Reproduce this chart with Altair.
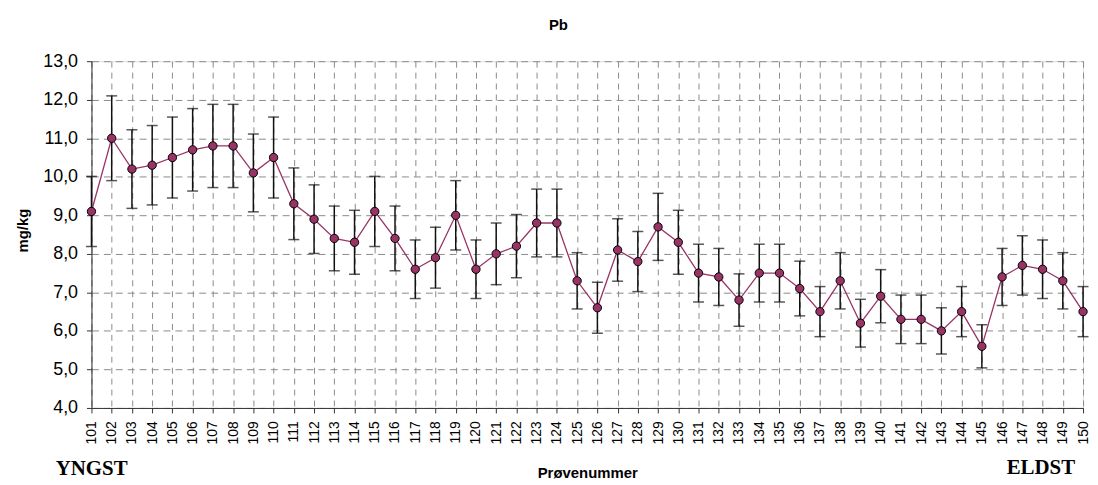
import altair as alt
import pandas as pd

samples = [str(n) for n in range(101, 151)]
values = [9.1, 11.0, 10.2, 10.3, 10.5, 10.7, 10.8, 10.8, 10.1, 10.5,
          9.3, 8.9, 8.4, 8.3, 9.1, 8.4, 7.6, 7.9, 9.0, 7.6,
          8.0, 8.2, 8.8, 8.8, 7.3, 6.6, 8.1, 7.8, 8.7, 8.3,
          7.5, 7.4, 6.8, 7.5, 7.5, 7.1, 6.5, 7.3, 6.2, 6.9,
          6.3, 6.3, 6.0, 6.5, 5.6, 7.4, 7.7, 7.6, 7.3, 6.5]
errors = [0.91, 1.10, 1.02, 1.03, 1.05, 1.07, 1.08, 1.08, 1.01, 1.05,
          0.93, 0.89, 0.84, 0.83, 0.91, 0.84, 0.76, 0.79, 0.90, 0.76,
          0.80, 0.82, 0.88, 0.88, 0.73, 0.66, 0.81, 0.78, 0.87, 0.83,
          0.75, 0.74, 0.68, 0.75, 0.75, 0.71, 0.65, 0.73, 0.62, 0.69,
          0.63, 0.63, 0.60, 0.65, 0.56, 0.74, 0.77, 0.76, 0.73, 0.65]
y_ticks = [4, 5, 6, 7, 8, 9, 10, 11, 12, 13]

df = pd.DataFrame({"sample": samples, "value": values, "err": errors})
df["lo"] = df["value"] - df["err"]
df["hi"] = df["value"] + df["err"]

SANS = "Liberation Sans"
SERIF = "Liberation Serif"
COL = "#993366"

x = alt.X("sample:O", sort=samples,
          scale=alt.Scale(type="point", padding=0),
          axis=alt.Axis(title="Prøvenummer", labelAngle=-90, labelFont=SANS,
                        labelFontSize=14, labelColor="#000", labelPadding=8,
                        labelOverlap=False,
                        tickSize=5, tickColor="#333", domainColor="#333",
                        grid=True, gridDash=[6, 5], gridColor="#8a8a8a",
                        titleFont=SANS, titleFontSize=15, titleFontWeight="bold",
                        titleBaseline="alphabetic", titleY=70, titleColor="#000"))

yscale = alt.Scale(domain=[4, 13], nice=False, zero=False)
yaxis = alt.Axis(title="mg/kg", values=y_ticks, labelOverlap=False,
                 labelExpr="replace(format(datum.value, '.1f'), '.', ',')",
                 labelFont=SANS, labelFontSize=18, labelColor="#000", labelPadding=9,
                 tickSize=5, tickColor="#333", domainColor="#333",
                 grid=True, gridDash=[7, 5], gridColor="#8a8a8a",
                 titleFont=SANS, titleFontSize=15, titleFontWeight="bold",
                 titleBaseline="alphabetic", titleX=-64, titleY=170, titleColor="#000")

base = alt.Chart(df)

rules = base.mark_rule(color="#111", strokeWidth=1.5).encode(
    x=x, y=alt.Y("lo:Q", scale=yscale, axis=yaxis), y2="hi:Q")
cap_hi = base.mark_tick(color="#111", size=11, thickness=1.5).encode(
    x=x, y=alt.Y("hi:Q", scale=yscale, axis=yaxis))
cap_lo = base.mark_tick(color="#111", size=11, thickness=1.5).encode(
    x=x, y=alt.Y("lo:Q", scale=yscale, axis=yaxis))
line = base.mark_line(color=COL, strokeWidth=1.3).encode(
    x=x, y=alt.Y("value:Q", scale=yscale, axis=yaxis))
pts = base.mark_point(filled=True, fill=COL, stroke="#000", strokeWidth=1,
                      size=70, opacity=1, shape="circle").encode(
    x=x, y=alt.Y("value:Q", scale=yscale, axis=yaxis))

ann = pd.DataFrame({"txt": ["YNGST"]})
yngst = alt.Chart(ann).mark_text(font=SERIF, fontSize=21, fontWeight="bold",
                                 align="left", baseline="alphabetic", color="#000").encode(
    text="txt:N", x=alt.value(-36), y=alt.value(416))
ann2 = pd.DataFrame({"txt": ["ELDST"]})
eldst = alt.Chart(ann2).mark_text(font=SERIF, fontSize=21, fontWeight="bold",
                                  align="right", baseline="alphabetic", color="#000").encode(
    text="txt:N", x=alt.value(990), y=alt.value(415))

chart = alt.layer(rules, cap_hi, cap_lo, line, pts, yngst, eldst).properties(
    width=998, height=349,
    title=alt.TitleParams("Pb", font=SANS, fontSize=15, fontWeight="bold",
                          color="#000", offset=19, dx=-29),
    autosize=alt.AutoSizeParams(type="none"),
    padding={"left": 84, "top": 52, "right": 7, "bottom": 75},
).configure_view(stroke=None).configure(background="white")

chart.save("out.html", embed_options={"renderer": "svg", "actions": False})
